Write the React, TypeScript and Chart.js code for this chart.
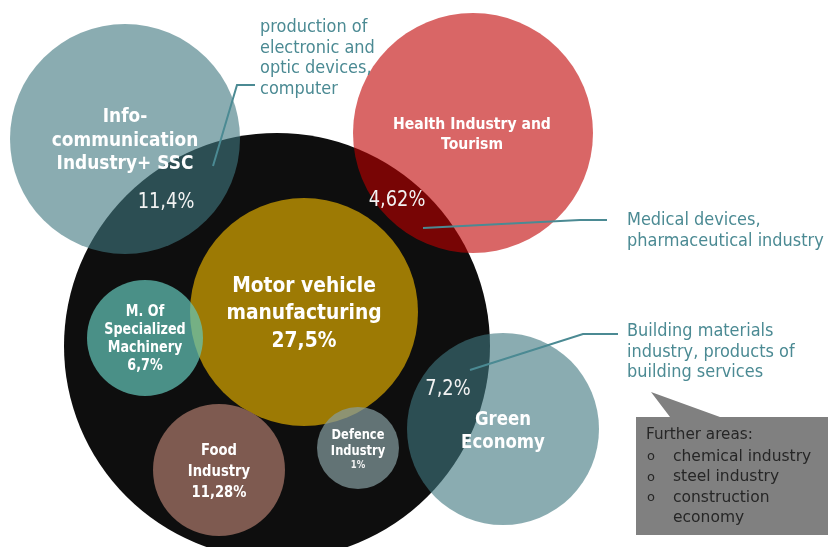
import React, { useEffect, useRef } from "react";
import { Chart, registerables } from "chart.js";

Chart.register(...registerables);

// ---- data ----
const bubbleNames = [
  "Core industries",
  "Motor vehicle manufacturing",
  "M. Of Specialized Machinery",
  "Food Industry",
  "Defence Industry",
  "Info-communication Industry+ SSC",
  "Health Industry and Tourism",
  "Green Economy",
];
const bubbleX = [277, 304, 145, 219, 358, 125, 473, 503];
const bubbleY = [346, 312, 338, 470, 448, 139, 133, 429];
const bubbleR = [213, 114, 58, 66, 41, 115, 120, 96];
const shares = ["", "27,5%", "6,7%", "11,28%", "1%", "11,4%", "4,62%", "7,2%"];
const titleLines = [
  [],
  ["Motor vehicle", "manufacturing"],
  ["M. Of", "Specialized", "Machinery"],
  ["Food", "Industry"],
  ["Defence", "Industry"],
  ["Info-", "communication", "Industry+ SSC"],
  ["Health Industry and", "Tourism"],
  ["Green", "Economy"],
];
const calloutTexts = [
  ["production of", "electronic and", "optic devices,", "computer"],
  ["Medical devices,", "pharmaceutical industry"],
  ["Building materials", "industry, products of", "building services"],
];
const furtherTitle = "Further areas:";
const furtherItems = [["chemical industry"], ["steel industry"], ["construction", "economy"]];

// ---- styles ----
const bubbleColors = [
  "#0e0e0e",
  "#9d7a04",
  "rgba(100,200,187,0.7)",
  "#7e5a50",
  "rgba(134,158,161,0.7)",
  "rgba(64,119,128,0.61)",
  "rgba(191,0,0,0.6)",
  "rgba(64,119,128,0.61)",
];
const FONT = '"DejaVu Sans", sans-serif';
// per-bubble label layout: size, gap, first-line offset, horizontal scale, inline share, separate share position
const labelLayout: any[] = [
  null,
  { size: 22, gap: 27.5, first: -26, hs: 0.85, inline: true },
  { size: 15, gap: 18, first: -26, hs: 0.85, inline: true },
  { size: 15.5, gap: 21, first: -19, hs: 0.85, inline: true },
  { size: 13.5, gap: 16, first: -13, hs: 0.85, inline: false, sSize: 10, sdx: 0, sdy: 17, sBold: true },
  { size: 20, gap: 23.5, first: -22, hs: 0.85, inline: false, sSize: 21, sdx: 41, sdy: 64 },
  { size: 16.5, gap: 20, first: -8, hs: 0.85, dx: -1, inline: false, sSize: 21, sdx: -76, sdy: 68 },
  { size: 19.5, gap: 23, first: -9, hs: 0.85, inline: false, sSize: 21, sdx: -55, sdy: -39 },
];
const calloutLines = [
  [[213, 166], [237, 85], [255, 85]],
  [[423, 228], [580, 220], [607, 220]],
  [[470, 370], [583, 334], [618, 334]],
];
const calloutTextPos = [
  [260, 28],
  [627, 221],
  [627, 332],
];
const calloutColor = "#4b8a93";

function drawText(ctx: CanvasRenderingContext2D, text: string, x: number, y: number, font: string, color: string, hs = 1, align: CanvasTextAlign = "center") {
  ctx.save();
  ctx.translate(x, y);
  ctx.scale(hs, 1);
  ctx.font = font;
  ctx.fillStyle = color;
  ctx.textAlign = align;
  ctx.textBaseline = "middle";
  ctx.fillText(text, 0, 0);
  ctx.restore();
}

const overlayPlugin = {
  id: "overlay",
  afterDatasetsDraw(chart: any) {
    const ctx: CanvasRenderingContext2D = chart.ctx;
    const sx = chart.scales.x;
    const sy = chart.scales.y;
    const px = (v: number) => sx.getPixelForValue(v);
    const py = (v: number) => sy.getPixelForValue(v);
    const meta = chart.getDatasetMeta(0);

    // bubble labels
    meta.data.forEach((el: any, i: number) => {
      const L = labelLayout[i];
      if (!L) return;
      const cx = el.x + (L.dx || 0);
      const cy = el.y;
      const lines = [...titleLines[i]];
      if (L.inline) lines.push(shares[i]);
      lines.forEach((t, k) => {
        drawText(ctx, t, cx, cy + L.first + k * L.gap, `bold ${L.size}px ${FONT}`, "#ffffff", L.hs);
      });
      if (!L.inline) {
        const f = L.sBold ? `bold ${L.sSize}px ${FONT}` : `${L.sSize}px ${FONT}`;
        drawText(ctx, shares[i], el.x + L.sdx, cy + L.sdy, f, "#f2f2f2", 0.85);
      }
    });

    // callouts
    ctx.save();
    ctx.strokeStyle = calloutColor;
    ctx.lineWidth = 2;
    calloutLines.forEach((pts) => {
      ctx.beginPath();
      pts.forEach((p, k) => {
        if (k === 0) ctx.moveTo(px(p[0]), py(p[1]));
        else ctx.lineTo(px(p[0]), py(p[1]));
      });
      ctx.stroke();
    });
    ctx.restore();
    calloutTexts.forEach((lines, j) => {
      const [tx, ty] = calloutTextPos[j];
      lines.forEach((t, k) => {
        drawText(ctx, t, px(tx), py(ty) + k * 20.5, `17px ${FONT}`, calloutColor, 0.95, "left");
      });
    });

    // further areas box
    ctx.save();
    ctx.fillStyle = "#808080";
    ctx.beginPath();
    ctx.moveTo(px(636), py(417));
    ctx.lineTo(px(670), py(417));
    ctx.lineTo(px(651), py(392));
    ctx.lineTo(px(720), py(417));
    ctx.lineTo(px(828), py(417));
    ctx.lineTo(px(828), py(535));
    ctx.lineTo(px(636), py(535));
    ctx.closePath();
    ctx.fill();
    ctx.restore();
    drawText(ctx, furtherTitle, px(646), py(435), `16px ${FONT}`, "#262626", 0.95, "left");
    let row = 0;
    furtherItems.forEach((item) => {
      drawText(ctx, "o", px(651), py(457) + row * 20.3, `13px ${FONT}`, "#262626", 1, "center");
      item.forEach((t) => {
        drawText(ctx, t, px(673), py(457) + row * 20.3, `16px ${FONT}`, "#262626", 0.97, "left");
        row++;
      });
    });
  },
};

export default function App() {
  const ref = useRef<HTMLCanvasElement | null>(null);
  useEffect(() => {
    if (!ref.current) return;
    const chart = new Chart(ref.current, {
      type: "bubble",
      data: {
        labels: bubbleNames,
        datasets: [
          {
            label: "Industries",
            data: bubbleX.map((x, i) => ({ x, y: bubbleY[i], r: bubbleR[i] })),
            backgroundColor: bubbleColors,
            borderWidth: 0,
            hoverBorderWidth: 0,
            clip: false as any,
          },
        ],
      },
      options: {
        responsive: false,
        animation: false,
        events: [],
        layout: { padding: 0, autoPadding: false },
        plugins: { legend: { display: false }, tooltip: { enabled: false } },
        scales: {
          x: { type: "linear", min: 0, max: 828, display: false },
          y: { type: "linear", min: 0, max: 547, reverse: true, display: false },
        },
      },
      plugins: [overlayPlugin],
    });
    return () => chart.destroy();
  }, []);
  return (
    <div style={{ position: "absolute", left: 0, top: 0, width: 828, height: 547, background: "#fff" }}>
      <canvas ref={ref} width={828} height={547} style={{ display: "block" }} />
    </div>
  );
}
